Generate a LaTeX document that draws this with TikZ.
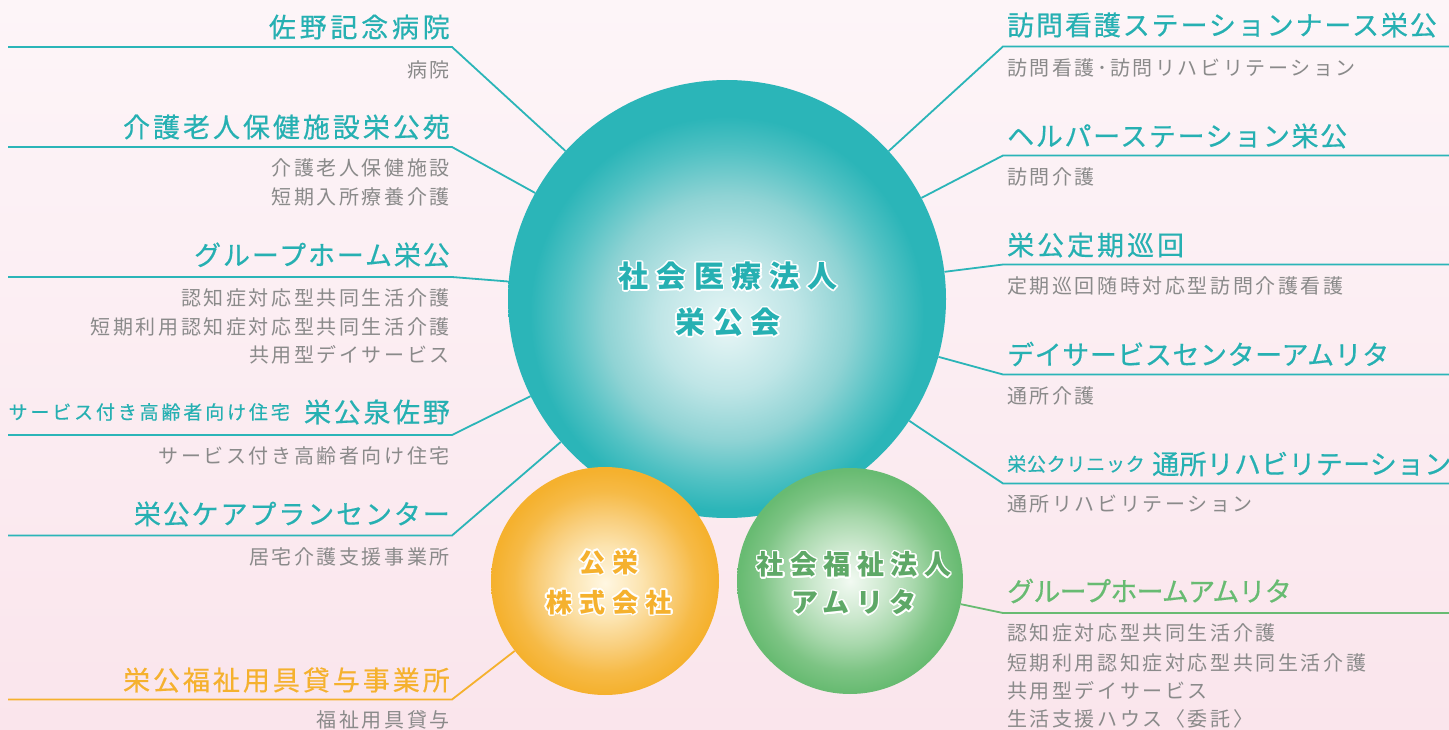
\documentclass[tikz,border=0pt]{standalone}
\usepackage{fontspec}
\usepackage{contour}
\newfontfamily\jp{Noto Sans CJK JP}
\definecolor{tealc}{RGB}{43,181,184}
\definecolor{tealt}{RGB}{38,176,178}
\definecolor{grayc}{RGB}{138,138,138}
\definecolor{orangec}{RGB}{245,177,46}
\definecolor{greenc}{RGB}{104,187,114}
\definecolor{bgT}{RGB}{253,245,248}
\definecolor{bgB}{RGB}{250,229,236}
\pgfdeclareradialshading{tealball}{\pgfpoint{0bp}{-3bp}}{color(0bp)=(rgb,255:red,232;green,246;blue,246); color(8bp)=(rgb,255:red,190;green,229;blue,230); color(14bp)=(rgb,255:red,143;green,211;blue,212); color(19bp)=(rgb,255:red,80;green,193;blue,195); color(22.5bp)=(tealc); color(50bp)=(tealc)}
\pgfdeclareradialshading{orangeball}{\pgfpoint{0bp}{-0.5bp}}{color(0bp)=(rgb,255:red,255;green,247;blue,226); color(8bp)=(rgb,255:red,252;green,228;blue,176); color(14bp)=(rgb,255:red,249;green,207;blue,126); color(20bp)=(rgb,255:red,246;green,186;blue,70); color(24.5bp)=(orangec); color(50bp)=(orangec)}
\pgfdeclareradialshading{greenball}{\pgfpoint{0bp}{0bp}}{color(0bp)=(rgb,255:red,242;green,250;blue,242); color(8bp)=(rgb,255:red,204;green,232;blue,206); color(14bp)=(rgb,255:red,168;green,216;blue,172); color(20bp)=(rgb,255:red,125;green,196;blue,132); color(24.5bp)=(greenc); color(50bp)=(greenc)}
\newcommand\ftitle[1]{\jp\fontsize{27}{30}\selectfont\addfontfeature{LetterSpace=#1,FakeBold=0.5}}
\newcommand\fsmall[1]{\jp\fontsize{19}{22}\selectfont\addfontfeature{LetterSpace=#1,FakeBold=0.4}}
\newcommand\fsub{\jp\fontsize{20}{24}\selectfont\addfontfeature{LetterSpace=13}}
\newcommand\fmain{\jp\bfseries\fontsize{30}{46}\selectfont\addfontfeature{LetterSpace=26}}
\newcommand\fkabu{\jp\bfseries\fontsize{26}{40}\selectfont\addfontfeature{LetterSpace=28}}
\newcommand\famr{\jp\bfseries\fontsize{27}{38}\selectfont\addfontfeature{LetterSpace=24}}
\contourlength{1.5pt}
\tikzset{
  ttl/.style={inner sep=0pt, text=tealt, font=\ftitle{7}},
  ttlL/.style={ttl, anchor=east},
  ttlR/.style={ttl, anchor=west},
  ls/.style={font=\ftitle{#1}},
  smallttl/.style={inner sep=0pt, text=tealt, font=\fsmall{#1}},
  subL/.style={inner sep=0pt, text=grayc, font=\fsub, anchor=east},
  subR/.style={inner sep=0pt, text=grayc, font=\fsub, anchor=west},
  conn/.style={draw=tealc, line width=1.8pt},
  connO/.style={draw=orangec, line width=1.8pt},
  connG/.style={draw=greenc, line width=1.8pt},
  ball/.style={circle, inner sep=0pt, draw=none},
}
\begin{document}
\begin{tikzpicture}[x=1pt, y=-1pt]
\useasboundingbox (0,0) rectangle (1449,730);
\shade[top color=bgT, bottom color=bgB] (0,0) rectangle (1449,730);

% circles
\node[ball, shading=tealball, minimum size=438pt] (med) at (727,299) {};
\node[ball, shading=orangeball, minimum size=228pt] (kabu) at (605,581) {};
\node[ball, shading=greenball, minimum size=226pt] (amr) at (850,581) {};

\node[font=\fmain, text=tealt, align=center, inner sep=0pt] (medtxt) at (728,300) {\contour{white}{社会医療法人}\\\contour{white}{栄公会}};
\node[font=\fkabu, text=orangec, align=center, inner sep=0pt] (kabutxt) at (609,583) {\contour{white}{公栄}\\\contour{white}{株式会社}};
\node[font=\famr, text=greenc!90!black, align=center, inner sep=0pt] (amrtxt) at (854,584) {\contour{white}{社会福祉法人}\\\contour{white}{アムリタ}};

% left column
\node[ttlL, ls=14] (t1) at (450,27) {佐野記念病院};
\node[subL] (s1) at (450,70) {病院};
\coordinate (a1) at (8,47); \coordinate (b1) at (452,47);
\draw[conn] (a1) -- (b1) -- (med);

\node[ttlL, ls=11] (t2) at (450,127) {介護老人保健施設栄公苑};
\node[subL] (s2a) at (450,168) {介護老人保健施設};
\node[subL] (s2b) at (450,197) {短期入所療養介護};
\coordinate (a2) at (8,147); \coordinate (b2) at (452,147);
\draw[conn] (a2) -- (b2) -- (med);

\node[ttlL] (t3) at (450,255) {グループホーム栄公};
\node[subL] (s3a) at (450,298) {認知症対応型共同生活介護};
\node[subL] (s3b) at (450,327) {短期利用認知症対応型共同生活介護};
\node[subL] (s3c) at (450,355) {共用型デイサービス};
\coordinate (a3) at (8,277); \coordinate (b3) at (452,277);
\draw[conn] (a3) -- (b3) -- (med);

\node[smallttl=15, anchor=east] (t4p) at (290,412) {サービス付き高齢者向け住宅};
\node[ttlL, ls=10] (t4) at (450,412) {栄公泉佐野};
\node[subL] (s4) at (450,456) {サービス付き高齢者向け住宅};
\coordinate (a4) at (8,435); \coordinate (b4) at (452,435);
\draw[conn] (a4) -- (b4) -- (med);

\node[ttlL] (t5) at (450,514) {栄公ケアプランセンター};
\node[subL] (s5) at (450,557) {居宅介護支援事業所};
\coordinate (a5) at (8,535.5); \coordinate (b5) at (452,535.5);
\draw[conn] (a5) -- (b5) -- (med);

\node[ttlL, ls=11, text=orangec] (t6) at (450,680) {栄公福祉用具貸与事業所};
\node[subL] (s6) at (450,720) {福祉用具貸与};
\coordinate (a6) at (8,699.5); \coordinate (b6) at (452,699.5);
\draw[connO] (a6) -- (b6) -- (kabu);

% right column
\node[ttlR] (r1) at (1007,25) {訪問看護ステーションナース栄公};
\node[subR] (rs1) at (1007,68) {訪問看護･訪問リハビリテーション};
\coordinate (c1) at (1003,46.5); \coordinate (d1) at (1449,46.5);
\draw[conn] (med) -- (c1) -- (d1);

\node[ttlR, ls=6] (r2) at (1007,136) {ヘルパーステーション栄公};
\node[subR] (rs2) at (1007,177) {訪問介護};
\coordinate (c2) at (1003,155.5); \coordinate (d2) at (1449,155.5);
\draw[conn] (med) -- (c2) -- (d2);

\node[ttlR, ls=11] (r3) at (1007,245) {栄公定期巡回};
\node[subR] (rs3) at (1007,286) {定期巡回随時対応型訪問介護看護};
\coordinate (c3) at (1003,264.5); \coordinate (d3) at (1449,264.5);
\draw[conn] (med) -- (c3) -- (d3);

\node[ttlR, ls=2] (r4) at (1007,354) {デイサービスセンターアムリタ};
\node[subR] (rs4) at (1007,396) {通所介護};
\coordinate (c4) at (1003,374.5); \coordinate (d4) at (1449,374.5);
\draw[conn] (med) -- (c4) -- (d4);

\node[smallttl=4, anchor=west] (r5p) at (1007,464) {栄公クリニック};
\node[ttlR, ls=1] (r5) at (1152,464) {通所リハビリテーション};
\node[subR] (rs5) at (1007,504) {通所リハビリテーション};
\coordinate (c5) at (1003,483.5); \coordinate (d5) at (1449,483.5);
\draw[conn] (med) -- (c5) -- (d5);

\node[ttlR, ls=-3, text=greenc] (r6) at (1007,591) {グループホームアムリタ};
\node[subR] (rs6a) at (1007,633) {認知症対応型共同生活介護};
\node[subR] (rs6b) at (1007,663) {短期利用認知症対応型共同生活介護};
\node[subR] (rs6c) at (1007,691) {共用型デイサービス};
\node[subR] (rs6d) at (1007,719) {生活支援ハウス〈委託〉};
\coordinate (c6) at (1003,613); \coordinate (d6) at (1449,613);
\draw[connG] (amr) -- (c6) -- (d6);
\end{tikzpicture}
\end{document}
